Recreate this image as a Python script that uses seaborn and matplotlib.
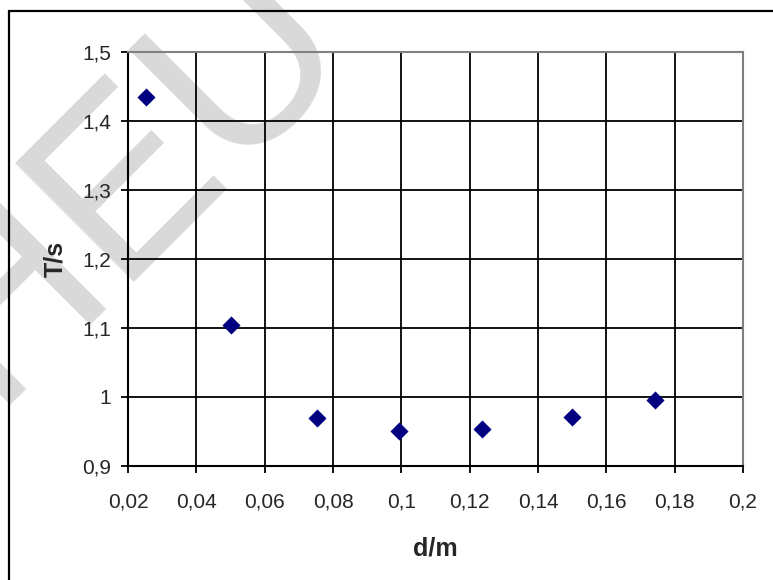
import numpy as np
import pandas as pd
import matplotlib
matplotlib.use("Agg")
import matplotlib.pyplot as plt
from matplotlib.patches import Rectangle
import seaborn as sns

# values
d_m = [0.0253, 0.050, 0.0752, 0.0994, 0.1236, 0.150, 0.1741]
T_s = [1.435, 1.105, 0.969, 0.951, 0.954, 0.971, 0.995]

x_ticks = [0.02, 0.04, 0.06, 0.08, 0.1, 0.12, 0.14, 0.16, 0.18, 0.2]
x_labels = ["0,02", "0,04", "0,06", "0,08", "0,1", "0,12", "0,14", "0,16", "0,18", "0,2"]
y_ticks = [0.9, 1.0, 1.1, 1.2, 1.3, 1.4, 1.5]
y_labels = ["0,9", "1", "1,1", "1,2", "1,3", "1,4", "1,5"]

df = pd.DataFrame({"d": d_m, "T": T_s})

sns.set_style("white")
plt.rcParams["font.family"] = ["Liberation Sans", "DejaVu Sans"]

fig = plt.figure(figsize=(7.73, 5.8), dpi=100)
ax = fig.add_axes([128 / 773, 1 - 466 / 580, 615 / 773, 414 / 580])
ax.patch.set_alpha(0)

# watermark behind the plot
fig.text(0.165, 0.69, "HEU", fontsize=175, color="#d9d9d9", rotation=45,
         ha="center", va="center", rotation_mode="anchor", zorder=-5)

# outer chart frame (only left/top visible)
fig.add_artist(Rectangle((9 / 773, -0.2), 1.2, 1.2 - 11 / 580,
                         transform=fig.transFigure, fill=False,
                         edgecolor="black", linewidth=1.6, zorder=-4))

sns.scatterplot(data=df, x="d", y="T", marker="D", color="#000080", s=85,
                linewidth=0, ax=ax, zorder=5)

ax.set_xlim(0.02, 0.2)
ax.set_ylim(0.9, 1.5)
ax.set_xticks(x_ticks)
ax.set_xticklabels(x_labels)
ax.set_yticks(y_ticks)
ax.set_yticklabels(y_labels)
ax.grid(True, color="black", linewidth=1.3)
ax.set_axisbelow(True)

ax.tick_params(axis="x", direction="out", length=5, width=1.3, pad=14,
               labelsize=15, color="black", bottom=True)
ax.tick_params(axis="y", direction="out", length=5, width=1.3, pad=7,
               labelsize=15, color="black", left=True)

for side in ["left", "bottom"]:
    ax.spines[side].set_color("black")
    ax.spines[side].set_linewidth(1.5)
for side in ["top", "right"]:
    ax.spines[side].set_color("#808080")
    ax.spines[side].set_linewidth(1.5)

ax.set_xlabel("d/m", fontsize=18, fontweight="bold", va="center")
ax.set_ylabel("T/s", fontsize=18, fontweight="bold", va="center")
ax.xaxis.set_label_coords(0.5, -(548 - 466) / 414)
ax.yaxis.set_label_coords((55 - 128) / 615, 0.5)

fig.savefig("out.png", dpi=100)
